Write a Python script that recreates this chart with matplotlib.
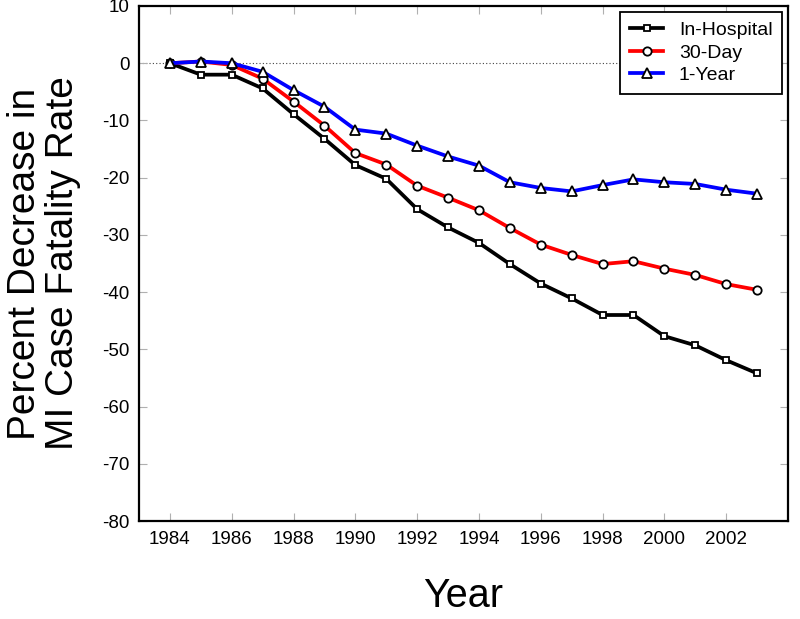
import matplotlib.pyplot as plt

plt.rcParams['font.family'] = ['Liberation Sans', 'DejaVu Sans']
plt.rcParams['axes.unicode_minus'] = False

years = list(range(1984, 2004))

in_hospital = [0, -2.0, -2.0, -4.4, -8.9, -13.2, -17.8, -20.2, -25.5, -28.7,
               -31.4, -35.1, -38.5, -41.1, -44.0, -44.0, -47.7, -49.3, -51.9, -54.2]
day_30 = [0, 0.3, -0.3, -2.7, -6.7, -10.9, -15.7, -17.7, -21.4, -23.5,
          -25.7, -28.8, -31.7, -33.5, -35.1, -34.6, -35.9, -37.0, -38.6, -39.6]
year_1 = [0, 0.3, 0.0, -1.5, -4.7, -7.6, -11.6, -12.3, -14.4, -16.3,
          -17.9, -20.8, -21.8, -22.4, -21.3, -20.3, -20.8, -21.1, -22.1, -22.8]

series = [
    ("In-Hospital", in_hospital, "black", "s", 5),
    ("30-Day", day_30, "red", "o", 6),
    ("1-Year", year_1, "blue", "^", 6.5),
]

fig = plt.figure(figsize=(8, 6.19), dpi=100)
ax = fig.add_axes([139/800, 1 - 521/619, (788 - 139)/800, (521 - 6)/619])

ax.axhline(0, color="#444444", linestyle=(0, (1, 2)), linewidth=0.8, zorder=1)

for label, vals, color, marker, ms in series:
    ax.plot(years, vals, color=color, linewidth=2.7, marker=marker,
            markersize=ms, markerfacecolor="white", markeredgecolor="black",
            markeredgewidth=1.3, label=label, zorder=3)

ax.set_xlim(1983, 2004)
ax.set_ylim(-80, 10)
ax.set_xticks(range(1984, 2004, 2))
ax.set_yticks(range(-80, 11, 10))

ax.tick_params(direction="in", length=6, width=0.8, color="#b0b0b0",
               labelsize=13.5, top=True, right=True, pad=7)
for s in ax.spines.values():
    s.set_linewidth(1.6)

ax.set_xlabel("Year", fontsize=28.5, labelpad=21)
ax.set_ylabel("Percent Decrease in\nMI Case Fatality Rate", fontsize=28,
              linespacing=1.08)
ax.yaxis.set_label_coords(-0.089, 0.5)

leg = ax.legend(loc="upper right", fontsize=14, fancybox=False,
                edgecolor="black", framealpha=1, handlelength=1.7,
                handletextpad=0.8, borderpad=0.5, borderaxespad=0.3,
                labelspacing=0.25)
leg.get_frame().set_linewidth(1.3)

fig.savefig("out.png", dpi=100)
